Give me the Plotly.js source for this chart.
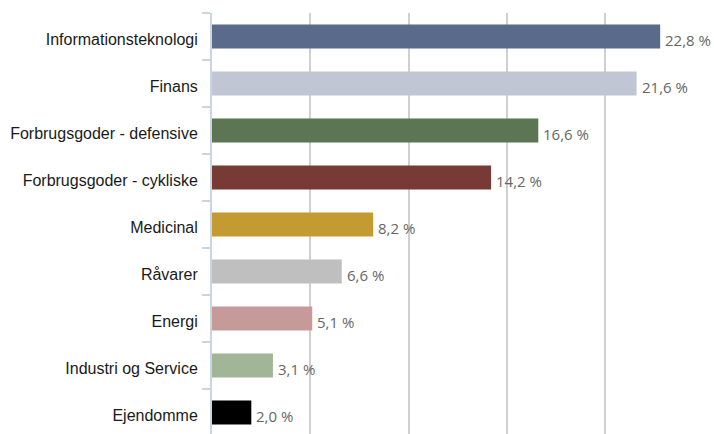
<!DOCTYPE html>
<html>
<head>
<meta charset="utf-8">
<script src="https://cdn.plot.ly/plotly-3.0.1.min.js"></script>
<style>html,body{margin:0;padding:0;overflow:hidden;background:#fff;}</style>
</head>
<body>
<div id="chart" style="width:714px;height:440px;"></div>
<script>
const categories = ["Informationsteknologi","Finans","Forbrugsgoder - defensive","Forbrugsgoder - cykliske","Medicinal","Råvarer","Energi","Industri og Service","Ejendomme"];
const values = [22.8, 21.6, 16.6, 14.2, 8.2, 6.6, 5.1, 3.1, 2.0];
const colors = ["#5a6a8a","#c0c6d3","#5c7552","#773a34","#c49b33","#bfbfbf","#c79a9a","#a1b597","#000000"];
const labels = values.map(v => v.toFixed(1).replace('.', ',') + ' %');

const annotations = categories.map((c, i) => ({
  x: values[i], y: c, xref: 'x', yref: 'y',
  text: labels[i], showarrow: false, xanchor: 'left', yanchor: 'middle',
  xshift: 3, yshift: -3,
  font: {family: '"Open Sans", sans-serif', size: 15, color: '#666666'}
}));

Plotly.newPlot('chart', [{
  type: 'bar',
  orientation: 'h',
  y: categories,
  x: values,
  marker: {color: colors},
  hoverinfo: 'none'
}], {
  width: 714, height: 440,
  margin: {l: 212, r: 10, t: 13, b: 4},
  paper_bgcolor: '#fff', plot_bgcolor: '#fff',
  bargap: 0.49,
  showlegend: false,
  annotations: annotations,
  xaxis: {range: [0, 25.03], dtick: 5, tick0: 0, showticklabels: false, showgrid: true,
          gridcolor: '#d0d0d0', gridwidth: 2, zeroline: false, showline: false, fixedrange: true},
  yaxis: {autorange: 'reversed', showline: true, linecolor: '#c9d5e3', linewidth: 2,
          ticks: 'outside', ticklen: 8, tickwidth: 1.5, tickcolor: '#c9d5e3', tickson: 'boundaries',
          ticklabelstandoff: 9, ticklabelshift: -3,
          tickfont: {family: '"Liberation Sans", Arial, sans-serif', size: 16, color: '#1a1a1a'},
          showgrid: false, zeroline: false, fixedrange: true}
}, {staticPlot: true});
</script>
</body>
</html>
